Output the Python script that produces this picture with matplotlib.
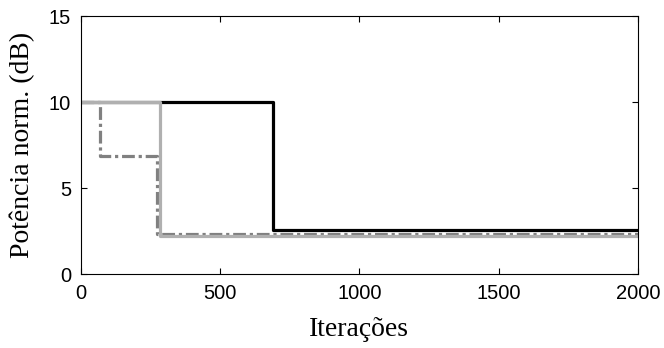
import matplotlib
matplotlib.use("Agg")
import matplotlib.pyplot as plt
import numpy as np

# step curves
x_black = [0, 689, 689, 2000]
y_black = [10, 10, 2.58, 2.58]

x_light = [0, 285, 285, 2000]
y_light = [10, 10, 2.19, 2.19]

x_dash = [0, 68, 68, 274, 274, 2000]
y_dash = [10, 10, 6.86, 6.86, 2.34, 2.34]

fig = plt.figure(figsize=(6.64, 3.48), dpi=100)
ax = fig.add_axes([80.7/664, 1-274/348, 557.3/664, 258/348])

ax.plot(x_black, y_black, color="black", lw=2.3)
ax.plot(x_dash, y_dash, color="#808080", lw=2.3, ls=(0, (4, 1.2, 1, 1.2)))
ax.plot(x_light, y_light, color="#b0b0b0", lw=2.3)

ax.set_xlim(0, 2000)
ax.set_ylim(0, 15)
ax.set_xticks([0, 500, 1000, 1500, 2000])
ax.set_yticks([0, 5, 10, 15])
ax.tick_params(direction="in", top=True, right=True, labelsize=14.5, length=4, width=0.8, pad=7)
for lab in ax.get_xticklabels() + ax.get_yticklabels():
    lab.set_family("Liberation Sans")
for s in ax.spines.values():
    s.set_linewidth(0.8)

ax.set_xlabel("Iterações", family="Liberation Serif", fontsize=20, labelpad=10)
ax.set_ylabel("Potência norm. (dB)", family="Liberation Serif", fontsize=20, labelpad=10)

fig.savefig("out.png", dpi=100)
